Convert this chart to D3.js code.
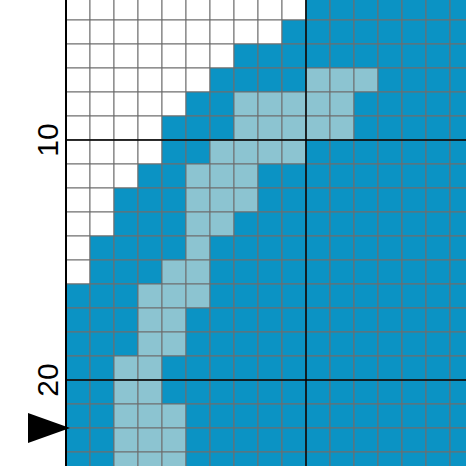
<!DOCTYPE html>
<html>
<head>
<meta charset="utf-8">
<script src="https://cdn.jsdelivr.net/npm/d3@7"></script>
<style>body{margin:0;background:#fff}</style>
</head>
<body>
<svg id="chart" width="466" height="466"></svg>
<script>
// pattern rows, starting at row 4 (top of view)
var firstRow = 4;
var whiteCount = [10, 9, 7, 6, 5, 4, 4, 3, 2, 2, 1, 1, 0, 0, 0, 0, 0, 0, 0, 0];
var lightStart = [null, null, null, 10, 7, 7, 6, 5, 5, 5, 5, 4, 3, 3, 3, 2, 2, 2, 2, 2];
var lightEnd   = [null, null, null, 12, 11, 11, 9, 7, 7, 6, 5, 5, 5, 4, 4, 3, 3, 4, 4, 4];
var rowLabels = [10, 20];
var markerRow = 22;
var nCols = 17;

var svg = d3.select("#chart");
var x = d3.scaleLinear().domain([0, nCols]).range([66, 66 + 24 * nCols]);
var y = d3.scaleLinear().domain([10, 20]).range([140, 380]);

var cells = [];
whiteCount.forEach(function(w, i) {
  var row = firstRow + i;
  for (var c = 0; c < nCols; c++) {
    var t = "blue";
    if (c < w) t = "white";
    else if (lightStart[i] != null && c >= lightStart[i] && c <= lightEnd[i]) t = "light";
    cells.push({row: row, col: c, type: t});
  }
});
var fill = {white: "#ffffff", blue: "#0b93c4", light: "#8cc4d1"};

svg.selectAll(".cell").data(cells).enter().append("rect")
  .attr("x", function(d) { return x(d.col); })
  .attr("y", function(d) { return y(d.row); })
  .attr("width", x(1) - x(0))
  .attr("height", y(1) - y(0))
  .attr("fill", function(d) { return fill[d.type]; })
  .attr("stroke", "#6e6e6e")
  .attr("stroke-width", 1);

// major lines every 10
svg.append("line").attr("x1", x(0)).attr("x2", x(0)).attr("y1", 0).attr("y2", 466)
  .attr("stroke", "#000").attr("stroke-width", 2);
svg.append("line").attr("x1", x(10)).attr("x2", x(10)).attr("y1", 0).attr("y2", 466)
  .attr("stroke", "#000").attr("stroke-width", 1.5);
svg.selectAll(".major").data(rowLabels).enter().append("line")
  .attr("x1", x(0)).attr("x2", 466)
  .attr("y1", function(d) { return y(d); }).attr("y2", function(d) { return y(d); })
  .attr("stroke", "#000").attr("stroke-width", 1.5);

svg.selectAll(".lbl").data(rowLabels).enter().append("text")
  .attr("transform", function(d) { return "translate(58," + y(d) + ") rotate(-90)"; })
  .attr("text-anchor", "middle")
  .attr("font-family", "Liberation Sans, Arial, sans-serif")
  .attr("font-size", 30)
  .text(function(d) { return d; });

var my = y(markerRow);
svg.append("path")
  .attr("d", "M28," + (my - 15) + "L70," + my + "L28," + (my + 15) + "Z")
  .attr("fill", "#000");
</script>
</body>
</html>
